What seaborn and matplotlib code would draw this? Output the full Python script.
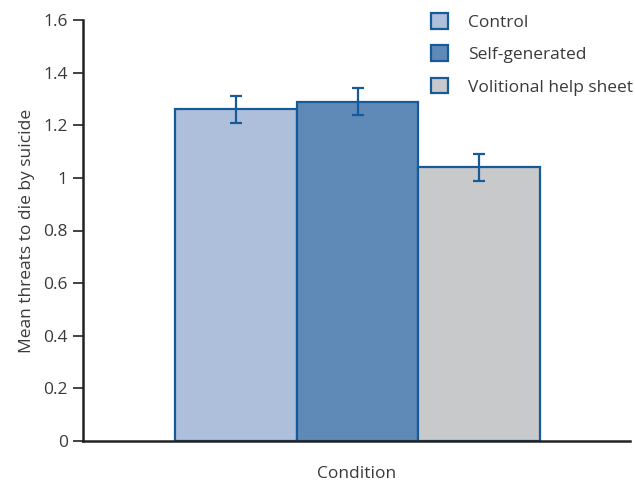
import matplotlib
matplotlib.use("Agg")
import matplotlib.pyplot as plt
import seaborn as sns
import pandas as pd

conditions = ["Control", "Self-generated", "Volitional help sheet"]
means = [1.26, 1.29, 1.04]
errors = [0.05, 0.05, 0.05]
y_ticks = [0, 0.2, 0.4, 0.6, 0.8, 1.0, 1.2, 1.4, 1.6]
y_tick_labels = ["0", "0.2", "0.4", "0.6", "0.8", "1", "1.2", "1.4", "1.6"]

fill_colors = ["#adbfdb", "#5f8ab8", "#c8c9cb"]
edge_color = "#175a98"
text_color = "#3a3a3a"

sns.set_theme(style="white")
plt.rcParams["font.family"] = ["Open Sans", "DejaVu Sans"]

df = pd.DataFrame({"group": ["Condition"] * 3, "condition": conditions, "mean": means})

fig = plt.figure(figsize=(6.35, 4.82), dpi=100)
ax = fig.add_axes([83 / 635, 1 - 441 / 482, (630 - 83) / 635, (441 - 20) / 482])

sns.barplot(data=df, x="group", y="mean", hue="condition", hue_order=conditions,
            palette=fill_colors, saturation=1, errorbar=None, width=0.8, ax=ax,
            edgecolor=edge_color, linewidth=1.6, legend=True)

# error bars centred on each bar
bars = [p for p in ax.patches if p.get_height() > 0][:3]
for bar, m, e in zip(bars, means, errors):
    cx = bar.get_x() + bar.get_width() / 2
    ax.errorbar(cx, m, yerr=e, fmt="none", ecolor=edge_color, elinewidth=1.6,
                capsize=4, capthick=1.6, zorder=5)

ax.set_xlim(-0.602, 0.597)
ax.set_ylim(0, 1.6)
ax.set_yticks(y_ticks)
ax.set_yticklabels(y_tick_labels)
ax.set_xticks([])
ax.set_xlabel("Condition", fontsize=12.5, color=text_color, labelpad=18)
ax.set_ylabel("Mean threats to die by suicide", fontsize=12.5, color=text_color, labelpad=6)

ax.tick_params(axis="y", which="major", direction="out", length=7, width=1.2,
               color="#222222", labelsize=12.5, labelcolor=text_color, left=True, pad=4)
for side in ["top", "right"]:
    ax.spines[side].set_visible(False)
for side in ["left", "bottom"]:
    ax.spines[side].set_color("#222222")
    ax.spines[side].set_linewidth(1.8)

leg = ax.legend(loc="upper left", bbox_to_anchor=(431 / 635, 1 - 13 / 482),
                bbox_transform=fig.transFigure, frameon=False,
                fontsize=12.5, handlelength=1.0, handleheight=1.0,
                labelspacing=0.85, handletextpad=1.15, borderaxespad=0, borderpad=0)
for t in leg.get_texts():
    t.set_color(text_color)
for h in leg.legend_handles:
    h.set_edgecolor(edge_color)
    h.set_linewidth(1.6)

fig.savefig("out.png", dpi=100)
